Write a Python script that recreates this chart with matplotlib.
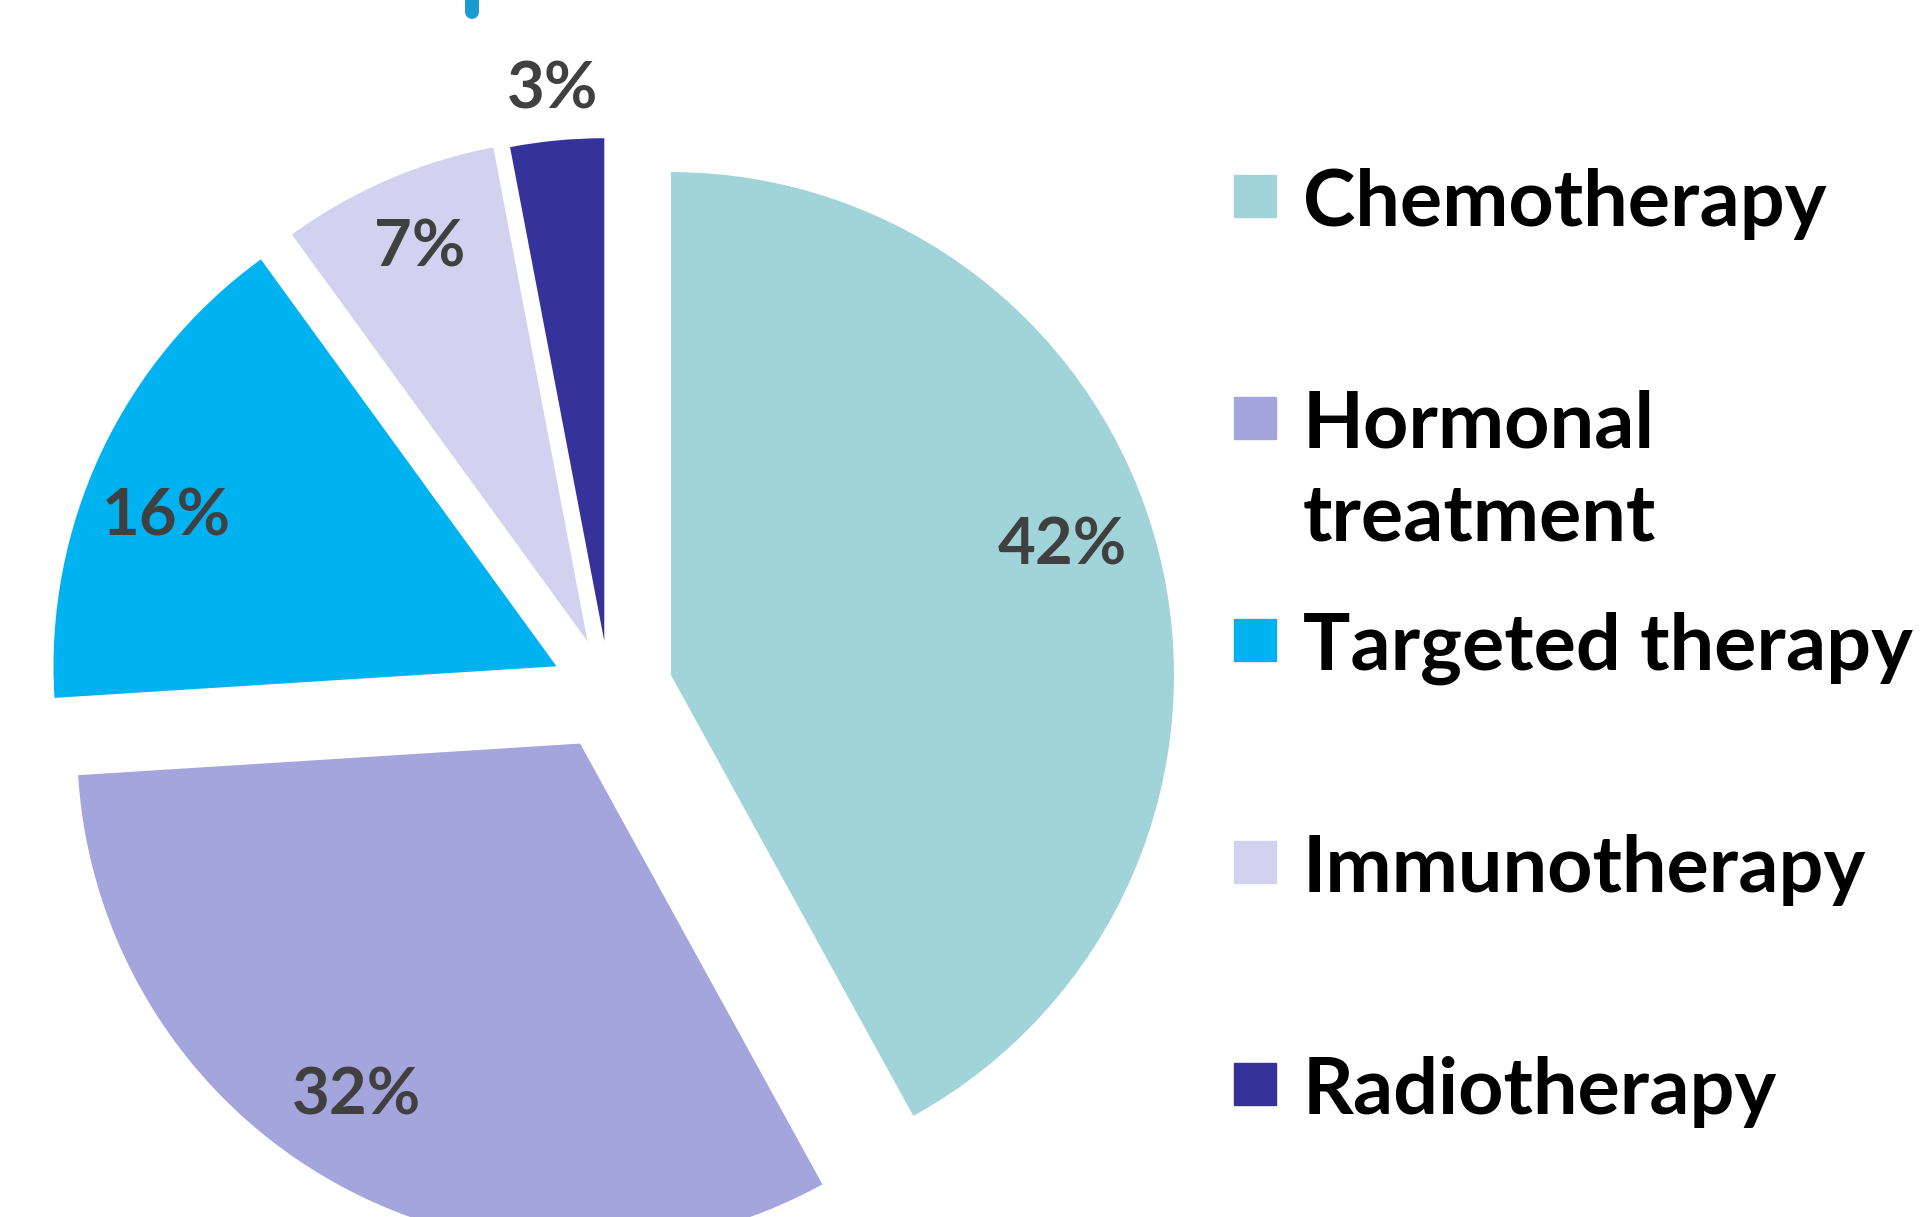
import matplotlib
matplotlib.use('Agg')
import matplotlib.pyplot as plt
from matplotlib.patches import Rectangle
import numpy as np

# Data
labels = ['Chemotherapy', 'Hormonal\ntreatment', 'Targeted therapy', 'Immunotherapy', 'Radiotherapy']
shares = [42, 32, 16, 7, 3]
colors = ['#A0D4D8', '#A5A5DE', '#00B3F0', '#D2D2F0', '#353399']
explode = [64, 60, 58, 54, 50]   # px
# label nudges (deg off the bisector, fraction of radius)
lab_rot = [3.8, -3.6, 4.2, -0.3, 0]
lab_dist = [0.82, 0.83, 0.83, 0.85, 1.10]

W, H = 1922, 1217
R = 503
fig = plt.figure(figsize=(W/100, H/100), dpi=100)
ax = fig.add_axes([0, 0, 1, 1])

font = 'Lato'
wedges, texts, autotexts = ax.pie(
    shares, colors=colors, startangle=90, counterclock=False,
    center=(609, H - 691), radius=R, explode=explode,
    autopct='%d%%', pctdistance=0.83, frame=True,
    textprops=dict(fontsize=47, fontweight='bold', color='#404040', family=font))
ax.set_xlim(0, W)
ax.set_ylim(0, H)
ax.set_aspect('equal')
ax.axis('off')

# label placement a bit like Excel's best fit; smallest slice goes outside
for w, t, rot, dist in zip(wedges, autotexts, lab_rot, lab_dist):
    ang = np.deg2rad((w.theta1 + w.theta2) / 2 + rot)
    cx, cy = w.center
    t.set_position((cx + dist*w.r*np.cos(ang), cy + dist*w.r*np.sin(ang)))

# cropped title fragment at top
ax.plot([472, 472], [H, H - 12], color='#1A9BCF', lw=10, solid_capstyle='round')

# legend
x0, y0, step, sq = 1234, H - 196, 222, 42
for i, (lab, c) in enumerate(zip(labels, colors)):
    y = y0 - i*step
    ax.add_patch(Rectangle((x0, y - sq/2), sq, sq, color=c))
    ax.text(x0 + 69, y + 28, lab, fontsize=57, fontweight='bold', color='black',
            family=font, va='top', ha='left', linespacing=1.35)

fig.savefig('out.png', dpi=100)
